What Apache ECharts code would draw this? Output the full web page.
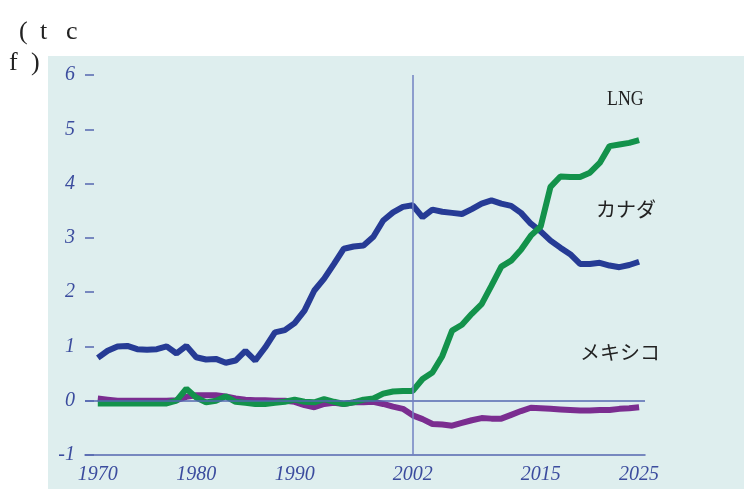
<!DOCTYPE html>
<html>
<head>
<meta charset="utf-8">
<script src="https://cdn.jsdelivr.net/npm/echarts@6/dist/echarts.min.js"></script>
<style>html,body{margin:0;padding:0;background:#fff;}#c{width:744px;height:489px;}</style>
</head>
<body>
<div id="c"></div>
<script>
var years = [];
for (var y = 1970; y <= 2025; y++) years.push(y);

var canadaValues = [0.79,0.92,1.00,1.01,0.95,0.94,0.95,1.00,0.87,1.01,
  0.80,0.76,0.77,0.70,0.74,0.92,0.74,0.98,1.26,1.30,
  1.43,1.66,2.03,2.25,2.52,2.80,2.84,2.86,3.02,3.32,
  3.47,3.57,3.60,3.38,3.52,3.48,3.46,3.44,3.53,3.63,
  3.69,3.63,3.59,3.46,3.26,3.12,2.95,2.82,2.70,2.52,
  2.52,2.54,2.49,2.46,2.50,2.56];

var lngValues = [-0.05,-0.05,-0.05,-0.05,-0.05,-0.05,-0.05,-0.05,0.00,0.22,
  0.06,-0.03,0.00,0.08,-0.02,-0.04,-0.06,-0.06,-0.04,-0.02,
  0.02,-0.02,-0.03,0.03,-0.02,-0.06,-0.03,0.02,0.04,0.13,
  0.17,0.18,0.18,0.40,0.52,0.82,1.29,1.40,1.60,1.78,
  2.12,2.47,2.58,2.78,3.04,3.21,3.94,4.13,4.12,4.12,
  4.20,4.38,4.69,4.72,4.75,4.80];

var mexicoValues = [0.04,0.02,0.00,0.00,0.00,0.00,0.00,0.00,0.01,0.07,
  0.10,0.10,0.10,0.08,0.04,0.02,0.01,0.01,0.00,0.00,
  -0.02,-0.08,-0.12,-0.06,-0.04,-0.06,-0.03,-0.03,-0.02,-0.06,
  -0.11,-0.15,-0.27,-0.34,-0.43,-0.44,-0.46,-0.41,-0.36,-0.32,
  -0.33,-0.33,-0.26,-0.19,-0.13,-0.14,-0.15,-0.16,-0.17,-0.18,
  -0.18,-0.17,-0.17,-0.15,-0.14,-0.12];

var xTickLabels = [1970, 1980, 1990, 2002, 2015, 2025];
var yTickValues = [-1, 0, 1, 2, 3, 4, 5, 6];
var markYear = 2002;

function pairs(vals) { return years.map(function (yr, i) { return [yr, vals[i]]; }); }

var axisBlue = '#3b4c9e';
var lineBlue = '#5567b0';
var unitFont = '26px "Liberation Serif"';

var chart = echarts.init(document.getElementById('c'), null, {renderer: 'canvas'});
chart.setOption({
  animation: false,
  backgroundColor: '#ffffff',
  grid: {left: 85, right: 99, top: 75, bottom: 34, containLabel: false},
  graphic: [
    {type: 'rect', z: -10, silent: true, shape: {x: 48, y: 56, width: 696, height: 433}, style: {fill: '#deeeee'}},
    {type: 'text', left: 19, top: 19, style: {text: '(', font: unitFont, fill: '#222'}},
    {type: 'text', left: 40, top: 19, style: {text: 't', font: unitFont, fill: '#222'}},
    {type: 'text', left: 66, top: 19, style: {text: 'c', font: unitFont, fill: '#222'}},
    {type: 'text', left: 9, top: 50, style: {text: 'f', font: unitFont, fill: '#222'}},
    {type: 'text', left: 31, top: 50, style: {text: ')', font: unitFont, fill: '#222'}},
    {type: 'text', x: 607, y: 89, scaleX: 0.85, style: {text: 'LNG', font: '21px "Liberation Serif"', fill: '#222'}},
    {type: 'text', x: 596, y: 199, style: {text: 'カナダ', font: '20px "Noto Sans CJK JP"', fill: '#222'}},
    {type: 'text', x: 580, y: 342, style: {text: 'メキシコ', font: '20px "Noto Sans CJK JP"', fill: '#222'}}
  ],
  xAxis: {
    type: 'value', min: 1968.7, max: 2025.6,
    axisLine: {show: true, onZero: false, lineStyle: {color: lineBlue, width: 1.5}},
    axisTick: {show: false},
    splitLine: {show: false},
    axisLabel: {
      customValues: xTickLabels,
      formatter: function (v) { return String(Math.round(v)); },
      margin: 10,
      color: axisBlue,
      fontFamily: 'Liberation Serif', fontStyle: 'italic', fontSize: 20
    }
  },
  yAxis: {
    type: 'value', min: -1, max: 6, interval: 1,
    axisLine: {show: false},
    axisTick: {show: true, inside: true, length: 9, customValues: yTickValues, lineStyle: {color: lineBlue, width: 1.5}},
    splitLine: {show: false},
    axisLabel: {
      customValues: yTickValues,
      formatter: function (v) { return String(v); },
      margin: 10, color: axisBlue,
      fontFamily: 'Liberation Serif', fontStyle: 'italic', fontSize: 20
    }
  },
  series: [
    {type: 'line', name: 'メキシコ', data: pairs(mexicoValues), showSymbol: false, symbol: 'none',
      lineStyle: {color: '#7b2d90', width: 6}, z: 2,
      markLine: {silent: true, symbol: 'none', label: {show: false},
        data: [{yAxis: 0, lineStyle: {color: lineBlue, width: 1.5, type: 'solid'}},
               {xAxis: markYear, lineStyle: {color: '#7282c2', width: 1.5, type: 'solid'}}]}},
    {type: 'line', name: 'カナダ', data: pairs(canadaValues), showSymbol: false, symbol: 'none',
      lineStyle: {color: '#263b95', width: 6}, z: 3},
    {type: 'line', name: 'LNG', data: pairs(lngValues), showSymbol: false, symbol: 'none',
      lineStyle: {color: '#13924b', width: 6}, z: 4}
  ]
});
</script>
</body>
</html>
